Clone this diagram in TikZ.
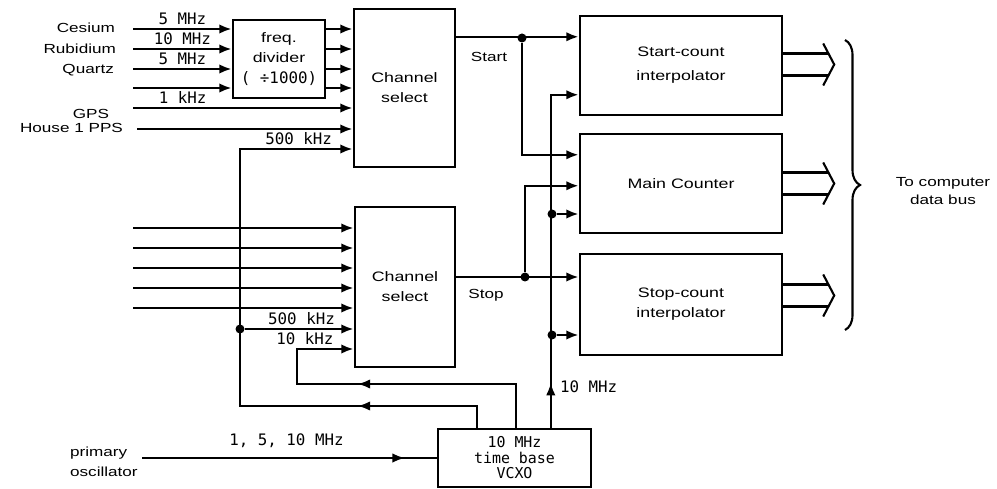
\documentclass[tikz,border=0pt]{standalone}
\usepackage{fontspec}
\setmainfont{Liberation Sans}[FakeStretch=1.3]
\newfontfamily\freqfont{DejaVu Sans Mono}
\usetikzlibrary{positioning,arrows.meta,calc,decorations.pathreplacing,decorations.markings}
\tikzset{
  blk/.style={rectangle, draw=black, line width=1.4pt, align=center, inner sep=2pt,
              font=\fontsize{7.8}{11.5}\selectfont},
  sig/.style={line width=1.4pt},
  sigarr/.style={sig, -{Latex[length=2.5mm, width=1.9mm]}},
  midarr/.style={postaction={decorate}, decoration={markings,
                 mark=at position #1 with {\arrow{Latex[length=2.5mm, width=1.9mm]}}}},
  jdot/.style={circle, fill=black, minimum size=1.8mm, inner sep=0pt},
  lbl/.style={font=\fontsize{7.5}{11.4}\selectfont, inner sep=1pt},
  flab/.style={font=\freqfont\fontsize{9}{10}\selectfont, inner sep=1pt},
  bus/.style={line width=1.2pt},
  dbrace/.style={line width=1.2pt, decorate, decoration={brace, amplitude=0.3cm}},
}

\begin{document}
\begin{tikzpicture}[x=0.02cm, y=-0.02cm]
\useasboundingbox (0,0) rectangle (997,489);

% blocks
\node[blk, minimum width=1.84cm, minimum height=1.56cm] (div) at (279,59)
  {freq.\\divider\\{\freqfont\fontsize{9}{11.5}\selectfont( ÷1000)}};
\node[blk, minimum width=2.02cm, minimum height=3.16cm] (selA) at (404.5,88) {Channel\\select};
\node[blk, minimum width=2cm, minimum height=3.2cm] (selB) at (405,287) {Channel\\select};
\node[blk, minimum width=4.04cm, minimum height=1.98cm] (startc) at (681,65.5) {Start-count\\[2pt]interpolator};
\node[blk, minimum width=4.04cm, minimum height=1.98cm] (mainc) at (681,183.5) {Main Counter};
\node[blk, minimum width=4.04cm, minimum height=2.02cm] (stopc) at (681,304.5) {Stop-count\\interpolator};
\node[blk, minimum width=3.06cm, minimum height=1.16cm, inner sep=1pt,
      font=\freqfont\fontsize{8.5}{8.8}\selectfont] (vcxo) at (514.5,458) {10 MHz\\time base\\VCXO};

% sources
\node[lbl, anchor=east] (cs) at (117,28) {Cesium};
\node[lbl, anchor=east] (rb) at (118,49) {Rubidium};
\node[lbl, anchor=east] (qz) at (116,70) {Quartz};
\node[lbl] (gps) at (91,114) {GPS};
\node[lbl, anchor=east] (hpps) at (125,128) {House 1 PPS};
\foreach \y/\n in {29/a,49/b,69/c,88/d}
  \coordinate (src\n) at (133,\y);
\foreach \y/\n in {228/1,248/2,268/3,288/4,308/5}
  \coordinate (stp\n) at (133,\y);
\coordinate (gpsin) at (133,108);
\coordinate (ppsin) at (137,129);

% top channel select inputs
\draw[sigarr] (srca) -- node[flab, above=1pt]{5 MHz} (srca -| div.west);
\draw[sigarr] (srcb) -- node[flab, above=1pt]{10 MHz} (srcb -| div.west);
\draw[sigarr] (srcc) -- node[flab, above=1pt]{5 MHz} (srcc -| div.west);
\draw[sigarr] (srcd) -- (srcd -| div.west);
\foreach \n in {a,b,c,d}
  \draw[sigarr] (src\n -| div.east) -- (src\n -| selA.west);
\draw[sigarr] (gpsin) -- node[flab, above=1pt, pos=0.226]{1 kHz} (gpsin -| selA.west);
\draw[sigarr] (ppsin) -- (ppsin -| selA.west);

% 500 kHz loop
\coordinate (t500) at ($(vcxo.north west)+(40,0)$);
\coordinate (c500) at (240,406);
\coordinate (a500) at (240,149);
\draw[sigarr, midarr=2.82cm] (t500) |- (c500) -- (a500)
  -- node[flab, above=1pt, pos=0.52]{500 kHz} (a500 -| selA.west);
\node[jdot] (j500) at (240,329) {};
\draw[sigarr] (j500) -- node[flab, above=1pt, pos=0.52]{500 kHz} (j500 -| selB.west);

% 10 kHz loop
\coordinate (t10k) at ($(vcxo.north west)+(79,0)$);
\coordinate (c10k) at (297,384);
\coordinate (a10k) at (297,349);
\draw[sigarr, midarr=4.04cm] (t10k) |- (c10k) -- (a10k)
  -- node[flab, above=1pt, pos=0.14]{10 kHz} (a10k -| selB.west);

% bottom channel select inputs
\foreach \n in {1,...,5}
  \draw[sigarr] (stp\n) -- (stp\n -| selB.west);

% start / stop
\coordinate (sA) at ($(selA.north east)+(0,29)$);
\node[jdot] (jst) at (522,38) {};
\draw[sigarr] (sA) -- (sA -| startc.west);
\node[lbl] (lstart) at (489,57) {Start};
\draw[sigarr] (jst) |- ($(mainc.north west)+(0,22)$);
\coordinate (sB) at ($(selB.east)+(0,-10)$);
\node[jdot] (jsp) at (525,277) {};
\draw[sigarr] (sB) -- (sB -| stopc.west);
\node[lbl] (lstop) at (486,295) {Stop};
\draw[sigarr] (jsp) |- ($(mainc.north west)+(0,53)$);

% 10 MHz clock
\coordinate (t10M) at ($(vcxo.north west)+(114,0)$);
\draw[sigarr, midarr=0.9cm] (t10M) |- ($(startc.north west)+(0,80)$);
\node[flab, anchor=west] (l10M) at (558,387) {10 MHz};
\node[jdot] (jm1) at (552,214) {};
\node[jdot] (jm2) at (552,335) {};
\draw[sigarr] (jm1) -- (jm1 -| mainc.west);
\draw[sigarr] (jm2) -- (jm2 -| stopc.west);

% primary oscillator
\node[lbl, align=left, anchor=west] (posc) at (68,462) {primary\\oscillator};
\coordinate (oin) at (142,458);
\draw[sig, midarr=5.26cm] (oin) -- node[flab, above=4pt, pos=0.49]{1, 5, 10 MHz} (vcxo.west);

% data bus
\foreach \b/\o in {startc/-1, mainc/0, stopc/-9} {
  \draw[bus] ($(\b.east)+(0,\o-11)$) -- ++(46,0);
  \draw[bus] ($(\b.east)+(0,\o+11)$) -- ++(46,0);
  \draw[bus] ($(\b.east)+(40,\o-21)$) -- ++(11,21) -- ++(-11,21);
}
\coordinate (bt) at (845,40);
\coordinate (bb) at (845,330);
\draw[dbrace] (bt) -- (bb);
\node[lbl, align=center, font=\fontsize{7.5}{10}\selectfont] (lbus) at (943,191) {To computer\\data bus};
\end{tikzpicture}
\end{document}
